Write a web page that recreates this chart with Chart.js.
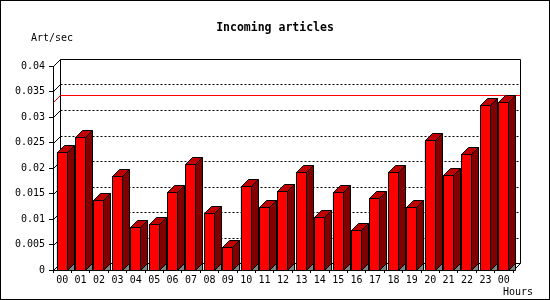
<!DOCTYPE html>
<html>
<head>
<title>Incoming articles</title>
<style>
  body { margin: 0; background: #fff; }
  #wrap { width: 550px; height: 300px; }
</style>
</head>
<body>
<div id="wrap"><canvas id="chart" width="550" height="300"></canvas></div>
<script src="https://cdn.jsdelivr.net/npm/chart.js"></script>
<script>
  const hours = ['00', '01', '02', '03', '04', '05', '06', '07', '08', '09', '10', '11',
    '12', '13', '14', '15', '16', '17', '18', '19', '20', '21', '22', '23', '00'];
  const artPerSec = [0.0231, 0.0260, 0.0137, 0.0184, 0.0084, 0.0090, 0.0152, 0.0207,
    0.0111, 0.0045, 0.0164, 0.0123, 0.0154, 0.0192, 0.0103, 0.0152, 0.0078, 0.0141,
    0.0192, 0.0123, 0.0254, 0.0186, 0.0227, 0.0323, 0.0329];
  const yTickLabels = ['0', '0.005', '0.01', '0.015', '0.02', '0.025', '0.03', '0.035', '0.04'];

  const DEPTH = 7; // 3d offset in px
  const FONT = '"DejaVu Sans Mono", monospace';

  Chart.defaults.font.family = FONT;
  Chart.defaults.font.size = 10;
  Chart.defaults.color = '#000';

  function line(ctx, x1, y1, x2, y2) {
    ctx.beginPath();
    ctx.moveTo(x1, y1);
    ctx.lineTo(x2, y2);
    ctx.stroke();
  }

  function poly(ctx, pts, fill) {
    ctx.beginPath();
    ctx.moveTo(pts[0][0], pts[0][1]);
    for (let i = 1; i < pts.length; i++) ctx.lineTo(pts[i][0], pts[i][1]);
    ctx.closePath();
    ctx.fillStyle = fill;
    ctx.fill();
    ctx.stroke();
  }

  const threeD = {
    id: 'threeD',
    beforeDatasetsDraw(chart) {
      const ctx = chart.ctx;
      const a = chart.chartArea;
      const ys = chart.scales.y;
      const L = Math.round(a.left) + 0.5, R = Math.round(a.right) + 0.5;
      const T = Math.round(a.top) + 0.5, B = Math.round(a.bottom) + 0.5;
      const D = DEPTH;
      ctx.save();
      ctx.lineWidth = 1;
      ctx.strokeStyle = '#000';

      // dotted grid on the back wall
      ctx.setLineDash([2, 2]);
      ys.ticks.forEach((t, i) => {
        if (i === 0 || i === ys.ticks.length - 1) return;
        const yy = Math.round(ys.getPixelForValue(t.value)) + 0.5 - D;
        line(ctx, L + D, yy, R + D, yy);
      });
      ctx.setLineDash([]);

      // back wall + floor edges
      line(ctx, L + D, T - D, R + D, T - D);
      line(ctx, L + D, T - D, L + D, B - D);
      line(ctx, R + D, T - D, R + D, B - D);
      line(ctx, L + D, B - D, R + D, B - D);
      line(ctx, R, B, R + D, B - D);

      // little diagonals from front axis to the wall
      ys.ticks.forEach(t => {
        const yy = Math.round(ys.getPixelForValue(t.value)) + 0.5;
        line(ctx, L, yy, L + D, yy - D);
      });

      // max line
      const maxY = Math.round(ys.getPixelForValue(Math.max(...artPerSec))) + 0.5;
      ctx.strokeStyle = '#f00';
      line(ctx, L, maxY, L + D, maxY - D);
      line(ctx, L + D, maxY - D, R + D, maxY - D);
      ctx.restore();
    },
    afterDatasetsDraw(chart) {
      const ctx = chart.ctx;
      const D = DEPTH;
      ctx.save();
      ctx.lineWidth = 1;
      ctx.strokeStyle = '#000';
      chart.getDatasetMeta(0).data.forEach(bar => {
        const p = bar.getProps(['x', 'y', 'base', 'width'], true);
        const l = Math.round(p.x - p.width / 2);
        const r = l + Math.round(p.width) - 1;
        const t = Math.round(p.y), b = Math.round(p.base);
        // front
        ctx.fillStyle = '#ff0000';
        ctx.fillRect(l, t, r - l + 1, b - t + 1);
        ctx.strokeRect(l + 0.5, t + 0.5, r - l, b - t);
        const L = l + 0.5, R = r + 0.5, T = t + 0.5, B = b + 0.5;
        // top
        poly(ctx, [[L, T], [L + D, T - D], [R + D, T - D], [R, T]], '#c00000');
        // side
        poly(ctx, [[R, T], [R + D, T - D], [R + D, B - D], [R, B]], '#800000');
        // floor shadow
        poly(ctx, [[R, B], [R + D, B - D], [R + D, B]], '#808080');
      });
      ctx.restore();
    },
    afterDraw(chart) {
      const ctx = chart.ctx;
      ctx.save();
      ctx.fillStyle = '#000';
      ctx.textAlign = 'center';
      ctx.textBaseline = 'middle';
      ctx.font = 'bold 11.5px ' + FONT;
      ctx.fillText('Incoming articles', 275, 28);
      ctx.font = '10px ' + FONT;
      ctx.fillText('Art/sec', 52, 38);
      ctx.fillText('Hours', 518, 292);
      ctx.strokeStyle = '#000';
      ctx.lineWidth = 1;
      ctx.strokeRect(0.5, 0.5, 549, 299);
      ctx.restore();
    }
  };

  new Chart(document.getElementById('chart'), {
    type: 'bar',
    data: {
      labels: hours,
      datasets: [{
        label: 'Art/sec',
        data: artPerSec,
        backgroundColor: '#ff0000',
        borderColor: '#000',
        borderWidth: 1,
        barPercentage: 0.6,
        categoryPercentage: 1
      }]
    },
    options: {
      responsive: false,
      animation: false,
      layout: { padding: { top: 66, right: 37, left: 0, bottom: 0 } },
      plugins: {
        legend: { display: false },
        tooltip: { enabled: false }
      },
      scales: {
        x: {
          offset: true,
          grid: { offset: true, drawOnChartArea: false, tickLength: 3, color: '#000' },
          border: { color: '#000' },
          ticks: { color: '#000', padding: 1, maxRotation: 0, autoSkip: false },
          afterFit(s) { s.height = 30; }
        },
        y: {
          min: 0,
          max: 0.04,
          grid: { drawOnChartArea: false, tickLength: 4, color: '#000' },
          border: { color: '#000' },
          ticks: {
            stepSize: 0.005,
            color: '#000',
            padding: 4,
            callback: (v, i) => yTickLabels[i]
          },
          afterFit(s) { s.width = 53; }
        }
      }
    },
    plugins: [threeD]
  });
</script>
</body>
</html>
